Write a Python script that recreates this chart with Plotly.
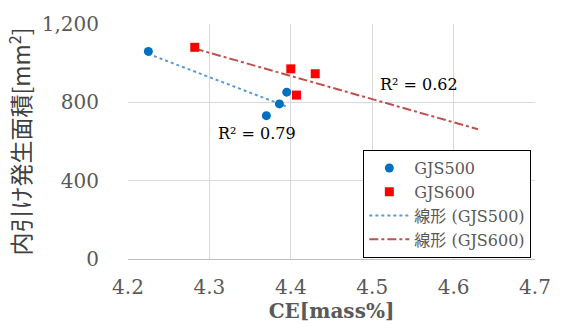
import numpy as np
import plotly.graph_objects as go

# Data
gjs500_ce = [4.225, 4.370, 4.386, 4.395]
gjs500_area = [1060, 732, 792, 852]
gjs600_ce = [4.282, 4.400, 4.407, 4.430]
gjs600_area = [1081, 971, 837, 946]
trend500_forward = 0.0
trend600_forward = 0.2
x_ticks = [4.2, 4.3, 4.4, 4.5, 4.6, 4.7]
y_ticks = [0, 400, 800, 1200]

SERIF = "DejaVu Serif, Noto Sans CJK JP"
GRAY = "#595959"


def trend(xs, ys, fwd):
    m, b = np.polyfit(xs, ys, 1)
    x0, x1 = min(xs), max(xs) + fwd
    pred = np.polyval([m, b], xs)
    ss_res = np.sum((np.array(ys) - pred) ** 2)
    ss_tot = np.sum((np.array(ys) - np.mean(ys)) ** 2)
    return [x0, x1], [m * x0 + b, m * x1 + b], 1 - ss_res / ss_tot


t5x, t5y, r5 = trend(gjs500_ce, gjs500_area, trend500_forward)
t6x, t6y, r6 = trend(gjs600_ce, gjs600_area, trend600_forward)

fig = go.Figure()
fig.add_trace(go.Scatter(x=t5x, y=t5y, mode="lines", name="線形 (GJS500)",
                         line=dict(color="#5B9BD5", width=2, dash="dot"), legendrank=3))
fig.add_trace(go.Scatter(x=t6x, y=t6y, mode="lines", name="線形 (GJS600)",
                         line=dict(color="#C0504D", width=2, dash="dashdot"), legendrank=4))
fig.add_trace(go.Scatter(x=gjs500_ce, y=gjs500_area, mode="markers", name="GJS500",
                         marker=dict(symbol="circle", size=9, color="#0070C0"), legendrank=1))
fig.add_trace(go.Scatter(x=gjs600_ce, y=gjs600_area, mode="markers", name="GJS600",
                         marker=dict(symbol="square", size=9, color="#FF0000"), legendrank=2))

fig.add_annotation(x=4.358, y=640, text=f"R² = {r5:.2f}", showarrow=False,
                   font=dict(family=SERIF, size=16, color="black"))
fig.add_annotation(x=4.558, y=890, text=f"R² = {r6:.2f}", showarrow=False,
                   font=dict(family=SERIF, size=16, color="black"))

fig.update_layout(
    width=563, height=329,
    margin=dict(l=128, r=20, t=22, b=66),
    paper_bgcolor="white", plot_bgcolor="white",
    font=dict(family=SERIF, color=GRAY),
    showlegend=True,
    legend=dict(x=0.991, y=0.004, xanchor="right", yanchor="bottom",
                bgcolor="white", bordercolor="black", borderwidth=1,
                font=dict(family=SERIF, size=16, color=GRAY),
                itemwidth=40, tracegroupgap=0),
    xaxis=dict(range=[4.2, 4.7], tickvals=x_ticks, tickformat=".1f",
               showgrid=True, gridcolor="#D9D9D9", gridwidth=1,
               showline=True, linecolor="#BFBFBF", zeroline=False,
               tickfont=dict(family=SERIF, size=20, color=GRAY),
               ticklabelstandoff=10,
               title=dict(text="<b>CE[mass%]</b>", font=dict(family=SERIF, size=20, color=GRAY),
                          standoff=4)),
    yaxis=dict(range=[0, 1200], tickvals=y_ticks, tickformat=",",
               showgrid=True, gridcolor="#D9D9D9", gridwidth=1,
               zeroline=False, showline=False,
               ticks="outside", ticklen=24, tickcolor="rgba(0,0,0,0)",
               tickfont=dict(family=SERIF, size=20, color=GRAY),
               title=dict(text="内引け発生面積[mm<sup>2</sup>]",
                          font=dict(family="Noto Sans CJK JP", size=23, color="#404040"),
                          standoff=4)),
)

fig.write_html("out.html")
